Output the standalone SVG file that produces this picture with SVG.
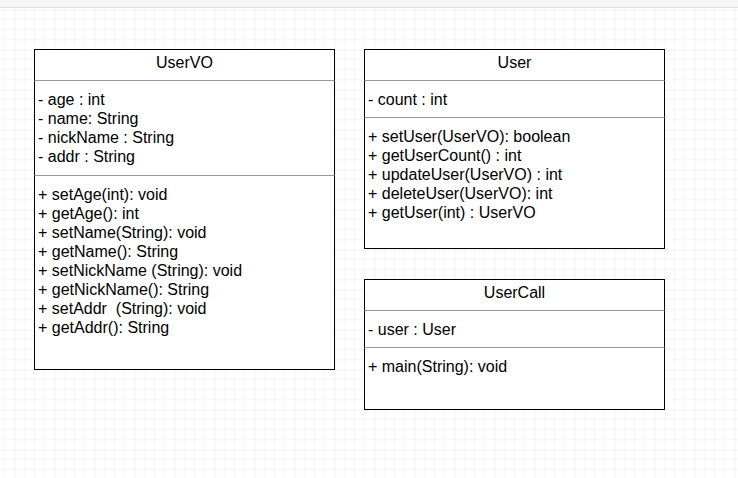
<svg xmlns="http://www.w3.org/2000/svg" width="738" height="478" viewBox="0 0 738 478">
<defs>
<pattern id="grid" patternUnits="userSpaceOnUse" x="14.5" y="9.5" width="40" height="40">
<path d="M10 0V40M20 0V40M30 0V40M0 10H40M0 20H40M0 30H40" stroke="#f3f3f3" stroke-width="1" fill="none"/>
<path d="M0 0V40M0 0H40" stroke="#e2e2e2" stroke-width="1" fill="none"/>
</pattern>
</defs>
<style>
.box{fill:#fff;stroke:#000;stroke-width:1}
.div{stroke:#999;stroke-width:1}
text{font-family:"Liberation Sans",Arial,sans-serif;font-size:16px;fill:#000}
.t{text-anchor:middle}
</style>
<rect x="0" y="0" width="738" height="478" fill="#fff"/>
<rect x="0" y="9" width="738" height="469" fill="url(#grid)"/>
<rect x="0" y="0" width="738" height="7.5" fill="#f5f6f8"/>
<line x1="0" y1="7.5" x2="738" y2="7.5" stroke="#e0e0e0"/>
<g id="connectors"></g>
<g id="UserVO">
<rect class="box" x="34.5" y="49.5" width="300" height="320"/>
<line class="div" x1="34.5" y1="80.5" x2="334.5" y2="80.5"/>
<line class="div" x1="34.5" y1="175.5" x2="334.5" y2="175.5"/>
<text class="t" x="184.5" y="68">UserVO</text>
<text x="38" y="105">- age : int</text>
<text x="38" y="124">- name: String</text>
<text x="38" y="143">- nickName : String</text>
<text x="38" y="162">- addr : String</text>
<text x="38" y="200" xml:space="preserve">+ setAge(int): void</text>
<text x="38" y="219">+ getAge(): int</text>
<text x="38" y="238">+ setName(String): void</text>
<text x="38" y="257">+ getName(): String</text>
<text x="38" y="276">+ setNickName (String): void</text>
<text x="38" y="295">+ getNickName(): String</text>
<text x="38" y="314" xml:space="preserve">+ setAddr  (String): void</text>
<text x="38" y="333">+ getAddr(): String</text>
</g>
<g id="User">
<rect class="box" x="364.5" y="49.5" width="300" height="199"/>
<line class="div" x1="364.5" y1="80.5" x2="664.5" y2="80.5"/>
<line class="div" x1="364.5" y1="117.5" x2="664.5" y2="117.5"/>
<text class="t" x="514.5" y="68">User</text>
<text x="368" y="105">- count : int</text>
<text x="368" y="142">+ setUser(UserVO): boolean</text>
<text x="368" y="161">+ getUserCount() : int</text>
<text x="368" y="180">+ updateUser(UserVO) : int</text>
<text x="368" y="199">+ deleteUser(UserVO): int</text>
<text x="368" y="218">+ getUser(int) : UserVO</text>
</g>
<g id="UserCall">
<rect class="box" x="364.5" y="279.5" width="300" height="130"/>
<line class="div" x1="364.5" y1="310.5" x2="664.5" y2="310.5"/>
<line class="div" x1="364.5" y1="347.5" x2="664.5" y2="347.5"/>
<text class="t" x="514.5" y="298">UserCall</text>
<text x="368" y="335">- user : User</text>
<text x="368" y="372">+ main(String): void</text>
</g>
</svg>
